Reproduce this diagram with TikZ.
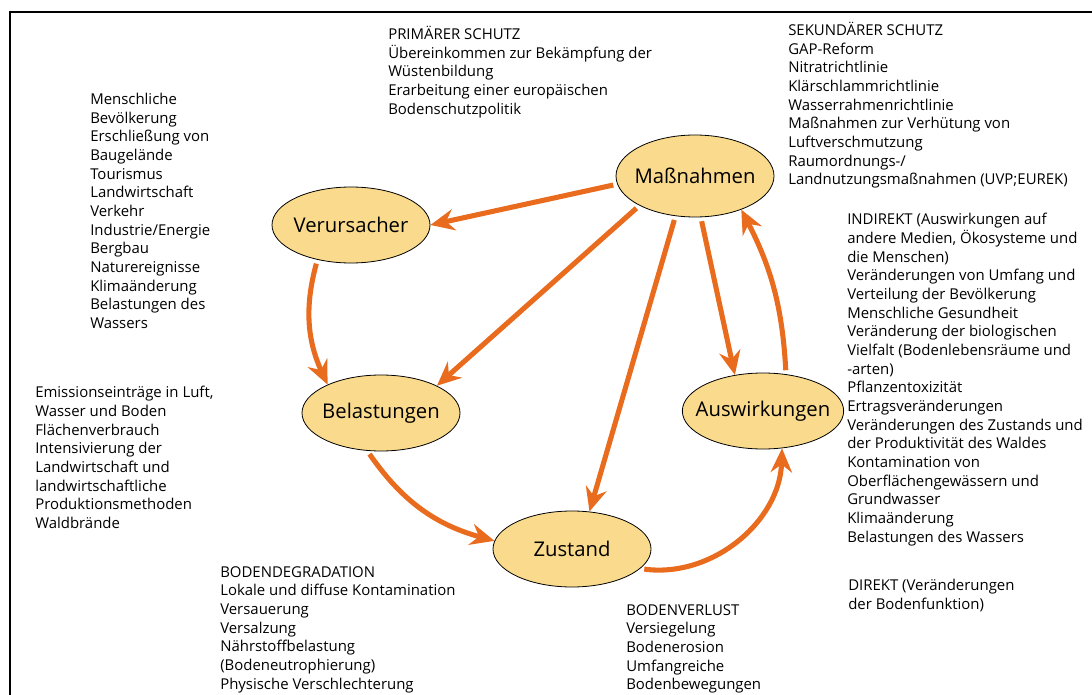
\documentclass[tikz,border=0pt]{standalone}
\usepackage{fontspec}
\setmainfont{Open Sans}
\usetikzlibrary{shapes,
                arrows.meta}
\definecolor{pfeil}{RGB}{233,107,30}
\definecolor{feld}{RGB}{250,218,140}
\tikzset{element/.style=
   {ellipse,
    draw,
    fill=feld,
    line width=0.6pt,
    inner sep=0pt,
    minimum width=118.5pt,
    minimum height=57pt,
    font=\fontsize{15.2}{16}\selectfont}}
\tikzset{arrow/.style = {draw=pfeil, line width=3.8pt,
    -{Stealth[length=18pt,width=16pt,inset=6pt]}, shorten <=3pt}}
\tikzset{liste/.style = {anchor=north west, align=left, inner sep=0pt,
    font=\fontsize{11.2}{14}\selectfont, execute at begin node=\strut}}
\newcommand{\eltext}[1]{\makebox[0pt]{#1}}

\begin{document}
\begin{tikzpicture}[x=0.75pt, y=-0.75pt]
    \useasboundingbox (0,0) rectangle (1092,695);
    \draw[line width=1.4pt] (10,695) -- (10,12) -- (1092,12);

    % Elements
    \node [element, minimum height=61.5pt] (massnahmen) at (695,176) {\eltext{Maßnahmen}};
    \node [element] (verursacher) at (351,225) {\eltext{Verursacher}};
    \node [element] (belastungen) at (381,413) {\eltext{Belastungen}};
    \node [element] (zustand) at (572,549) {\eltext{Zustand}};
    \node [element, minimum width=121pt] (auswirkungen) at (763,411) {\eltext{Auswirkungen}};

    % Lists
    \node [liste] (primaer) at (388,26) {PRIMÄRER SCHUTZ\\
        Übereinkommen zur Bekämpfung der\\
        Wüstenbildung\\
        Erarbeitung einer europäischen\\
        Bodenschutzpolitik};
    \node [liste] (sekundaer) at (788,22) {SEKUNDÄRER SCHUTZ\\
        GAP-Reform\\
        Nitratrichtlinie\\
        Klärschlammrichtlinie\\
        Wasserrahmenrichtlinie\\
        Maßnahmen zur Verhütung von\\
        Luftverschmutzung\\
        Raumordnungs-/\\
        Landnutzungsmaßnahmen (UVP;EUREK)};
    \node [liste] (ursachen) at (90,93) {Menschliche\\
        Bevölkerung\\
        Erschließung von\\
        Baugelände\\
        Tourismus\\
        Landwirtschaft\\
        Verkehr\\
        Industrie/Energie\\
        Bergbau\\
        Naturereignisse\\
        Klimaänderung\\
        Belastungen des\\
        Wassers};
    \node [liste] (emission) at (35,386) {Emissionseinträge in Luft,\\
        Wasser und Boden\\
        Flächenverbrauch\\
        Intensivierung der\\
        Landwirtschaft und\\
        landwirtschaftliche\\
        Produktionsmethoden\\
        Waldbrände};
    \node [liste] (degradation) at (220,566) {BODENDEGRADATION\\
        Lokale und diffuse Kontamination\\
        Versauerung\\
        Versalzung\\
        Nährstoffbelastung\\
        (Bodeneutrophierung)\\
        Physische Verschlechterung};
    \node [liste] (verlust) at (626,604) {BODENVERLUST\\
        Versiegelung\\
        Bodenerosion\\
        Umfangreiche\\
        Bodenbewegungen};
    \node [liste] (indirekt) at (847,213) {INDIREKT (Auswirkungen auf\\
        andere Medien, Ökosysteme und\\
        die Menschen)\\
        Veränderungen von Umfang und\\
        Verteilung der Bevölkerung\\
        Menschliche Gesundheit\\
        Veränderung der biologischen\\
        Vielfalt (Bodenlebensräume und\\
        -arten)\\
        Pflanzentoxizität\\
        Ertragsveränderungen\\
        Veränderungen des Zustands und\\
        der Produktivität des Waldes\\
        Kontamination von\\
        Oberflächengewässern und\\
        Grundwasser\\
        Klimaänderung\\
        Belastungen des Wassers};
    \node [liste] (direkt) at (848,579) {DIREKT (Veränderungen\\
        der Bodenfunktion)};

    % Draw edges
    \draw [arrow] (massnahmen.186) -- (verursacher.0);
    \draw [arrow] (massnahmen.208) -- (belastungen.26);
    \draw [arrow] (massnahmen.244) -- (zustand.65);
    \draw [arrow] (massnahmen.278) -- (auswirkungen.128);
    \draw [arrow] (auswirkungen.58) to [bend right=12] (massnahmen.324);
    \draw [arrow] (verursacher.226) to [bend right=20] (belastungen.152);
    \draw [arrow] (belastungen.250) to [bend right=20] (zustand.174);
    \draw [arrow] (zustand.344) to [bend right=48] (auswirkungen.297);

\end{tikzpicture}
\end{document}
